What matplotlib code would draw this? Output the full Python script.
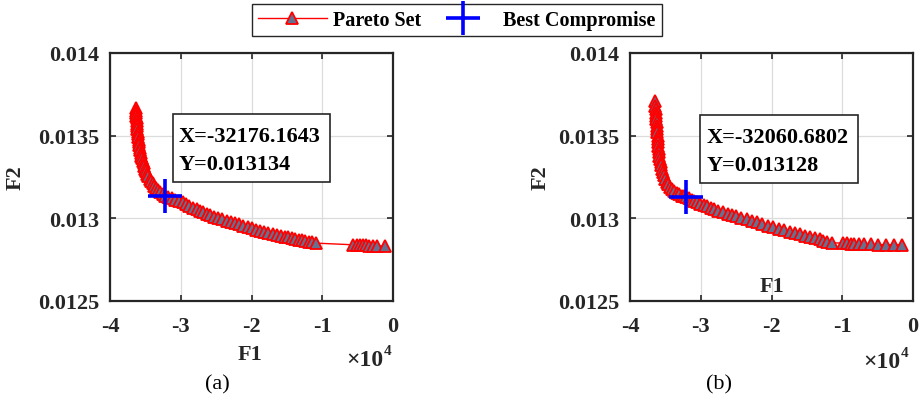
import matplotlib
matplotlib.use("Agg")
import matplotlib.pyplot as plt
from matplotlib.lines import Line2D
from matplotlib.patches import Rectangle

# ---- data -----------------------------------------------------------------
f1_a = [-36320, -36300, -36285, -36265, -36245, -36220, -36190, -36160, -36125,
        -36090, -36050, -36005, -35955, -35900, -35840, -35775, -35705, -35630,
        -35550, -35460, -35365, -35260, -35145, -35020, -34880, -34730, -34560,
        -34380, -34180, -33960, -33720, -33460, -33180, -32880, -32560,
        -32176.1643, -31800, -31280, -30800, -30200, -29640, -29200, -28800,
        -28300, -27750, -27300, -26800, -26300, -25870, -25300, -24700, -24100,
        -23510, -22900, -22300, -21700, -21160, -20500, -19900, -19300, -18800,
        -18200, -17600, -17000, -16440, -15900, -15300, -14800, -14320, -13800,
        -13300, -12800, -12440, -11900, -11400, -10880,
        -5650, -5100, -4650, -4250, -3800, -3350, -2820, -2200, -1150]
f2_a = [0.013668, 0.013652, 0.013636, 0.013620, 0.013604, 0.013588, 0.013572,
        0.013556, 0.013540, 0.013524, 0.013508, 0.013492, 0.013476, 0.013460,
        0.013444, 0.013428, 0.013412, 0.013396, 0.013380, 0.013364, 0.013348,
        0.013332, 0.013316, 0.013300, 0.013285, 0.013270, 0.013255, 0.013240,
        0.013226, 0.013212, 0.013198, 0.013184, 0.013170, 0.013157, 0.013145,
        0.013134, 0.013127, 0.013120, 0.013112, 0.013104, 0.013096, 0.013084,
        0.013074, 0.013064, 0.013055, 0.013046, 0.013037, 0.013028, 0.013020,
        0.013011, 0.013002, 0.012994, 0.012986, 0.012978, 0.012971, 0.012963,
        0.012956, 0.012947, 0.012939, 0.012932, 0.012925, 0.012918, 0.012912,
        0.012906, 0.012900, 0.012895, 0.012889, 0.012885, 0.012880, 0.012876,
        0.012871, 0.012867, 0.012864, 0.012859, 0.012855, 0.012850,
        0.012840, 0.012839, 0.012838, 0.012837, 0.012836, 0.012835, 0.012834,
        0.012833, 0.012831]

f1_b = [-36470, -36400, -36370, -36330, -36300, -36270, -36230, -36200, -36170,
        -36140, -36110, -36080, -36040, -36000, -35950, -35900, -35840, -35760,
        -35680, -35580, -35470, -35350, -35200, -35030, -34830, -34590, -34330,
        -34050, -33730, -33400, -33050, -32700, -32380, -32060.6802, -31700,
        -31300, -30900, -30500, -30100, -29600, -29100, -28600, -28100, -27500,
        -26800, -26200, -25600, -25000, -24300, -23500, -22800, -22000, -21300,
        -20500, -19730, -19000, -18200, -17400, -16700, -15970, -15200, -14500,
        -13800, -13200, -12670, -12100, -11490, -9850, -9280, -8720, -8290,
        -7590, -6880, -5890, -4900, -3770, -2640, -1510]
f2_b = [0.013712, 0.013680, 0.013661, 0.013640, 0.013620, 0.013600, 0.013580,
        0.013560, 0.013540, 0.013520, 0.013500, 0.013480, 0.013460, 0.013440,
        0.013420, 0.013400, 0.013380, 0.013360, 0.013340, 0.013320, 0.013300,
        0.013280, 0.013260, 0.013240, 0.013222, 0.013206, 0.013192, 0.013179,
        0.013166, 0.013156, 0.013146, 0.013138, 0.013133, 0.013128, 0.013120,
        0.013112, 0.013104, 0.013096, 0.013088, 0.013080, 0.013072, 0.013064,
        0.013056, 0.013046, 0.013037, 0.013029, 0.013021, 0.013014, 0.013005,
        0.012993, 0.012984, 0.012975, 0.012965, 0.012955, 0.012946, 0.012937,
        0.012928, 0.012920, 0.012912, 0.012905, 0.012896, 0.012888, 0.012879,
        0.012872, 0.012865, 0.012858, 0.012852, 0.012850, 0.012848, 0.012846,
        0.012845, 0.012844, 0.012843, 0.012842, 0.012841, 0.012840, 0.012840,
        0.012839]

best_a = (-32176.1643, 0.013134)
best_b = (-32060.6802, 0.013128)

x_ticks = [-40000, -30000, -20000, -10000, 0]
x_tick_labels = ["-4", "-3", "-2", "-1", "0"]
y_ticks = [0.0125, 0.013, 0.0135, 0.014]
y_tick_labels = ["0.0125", "0.013", "0.0135", "0.014"]

# ---- style ----------------------------------------------------------------
W, H = 921, 402
SERIF = "Liberation Serif"
plt.rcParams["font.family"] = [SERIF, "DejaVu Serif"]

RED = "#ff0000"
FACE = "#66708f"
BLUE = "#0000ff"
INK = "#262626"

fig = plt.figure(figsize=(W / 100, H / 100), dpi=100)


def px_box(left, top, right, bottom):
    return [left / W, 1 - bottom / H, (right - left) / W, (bottom - top) / H]


def fig_xy(x, y):
    return x / W, 1 - y / H


def setup_axes(ax):
    ax.set_xlim(-40000, 0)
    ax.set_ylim(0.0125, 0.014)
    ax.set_xticks(x_ticks)
    ax.set_xticklabels(x_tick_labels)
    ax.set_yticks(y_ticks)
    ax.set_yticklabels(y_tick_labels)
    ax.grid(True, color="#dcdcdc", lw=0.9)
    ax.set_axisbelow(True)
    ax.tick_params(direction="in", length=4, width=1.2, top=True, right=True,
                   color=INK)
    ax.tick_params(axis="x", pad=11)
    ax.tick_params(axis="y", pad=8)
    for lab in ax.get_xticklabels() + ax.get_yticklabels():
        lab.set_fontweight("bold")
        lab.set_fontsize(16)
        lab.set_color(INK)
    for s in ax.spines.values():
        s.set_linewidth(1.6)
        s.set_color(INK)
    ax.set_ylabel("F2", fontsize=16, fontweight="bold", color=INK)


def draw_panel(ax, f1, f2, best):
    ax.plot(f1, f2, color=RED, lw=1.0, marker="^", markersize=8,
            markerfacecolor=FACE, markeredgecolor=RED, markeredgewidth=1.3,
            zorder=3)
    ax.plot([best[0]], [best[1]], linestyle="none", marker="+",
            markersize=24, markeredgewidth=2.6, color=BLUE, zorder=4)


def info_box(ax, box, text_x, line_ys, best):
    x0, y0, x1, y1 = box
    ax.add_patch(Rectangle((x0, y0), x1 - x0, y1 - y0, transform=ax.transAxes,
                           facecolor="white", edgecolor=INK, lw=1.2,
                           zorder=5, clip_on=False))
    ax.text(text_x, line_ys[0], f"X={best[0]:.4f}", transform=ax.transAxes,
            fontsize=16, fontweight="bold", va="center", ha="left", zorder=6)
    ax.text(text_x, line_ys[1], f"Y={best[1]:.6f}", transform=ax.transAxes,
            fontsize=16, fontweight="bold", va="center", ha="left", zorder=6)


# panel (a)
ax_a = fig.add_axes(px_box(110, 54, 393, 302))
setup_axes(ax_a)
draw_panel(ax_a, f1_a, f2_a, best_a)
ax_a.yaxis.set_label_coords(-0.297, 0.5)
info_box(ax_a, (0.2226, 0.4798, 0.7774, 0.754), 0.2438, (0.665, 0.552), best_a)

# panel (b)
ax_b = fig.add_axes(px_box(630, 54, 913, 302))
setup_axes(ax_b)
draw_panel(ax_b, f1_b, f2_b, best_b)
ax_b.yaxis.set_label_coords(-0.279, 0.5)
info_box(ax_b, (0.2473, 0.476, 0.8057, 0.75), 0.271, (0.661, 0.548), best_b)

# axis titles, exponent markers and captions
fig.text(*fig_xy(250, 355), "F1", fontsize=16, fontweight="bold",
         ha="center", va="center", color=INK)
fig.text(*fig_xy(772, 287), "F1", fontsize=16, fontweight="bold",
         ha="center", va="center", color=INK, zorder=10)

for x_right, y_mid in ((383, 361), (900, 363)):
    fig.text(*fig_xy(x_right, y_mid), "×10", fontsize=17, fontweight="bold",
             ha="right", va="center", color=INK)
    fig.text(*fig_xy(x_right + 1, y_mid - 9), "4", fontsize=11,
             fontweight="bold", ha="left", va="center", color=INK)

fig.text(*fig_xy(217, 385), "(a)", fontsize=16, ha="center", va="center")
fig.text(*fig_xy(719, 385), "(b)", fontsize=16, ha="center", va="center")

# shared legend
handles = [
    Line2D([], [], color=RED, lw=1.0, marker="^", markersize=8,
           markerfacecolor=FACE, markeredgecolor=RED, markeredgewidth=1.3),
    Line2D([], [], linestyle="none", marker="+", markersize=24,
           markeredgewidth=2.6, color=BLUE),
]
leg = fig.legend(handles, ["Pareto Set", "Best Compromise"], loc="center",
                 bbox_to_anchor=fig_xy(457, 21), ncol=2, frameon=True,
                 fancybox=False, edgecolor=INK, framealpha=1,
                 prop={"family": SERIF, "weight": "bold", "size": 14.5},
                 handlelength=3.4, handletextpad=0.3, columnspacing=0.4,
                 borderpad=0.3, borderaxespad=0)
leg.get_frame().set_linewidth(1.0)

fig.savefig("out.png", dpi=100)
